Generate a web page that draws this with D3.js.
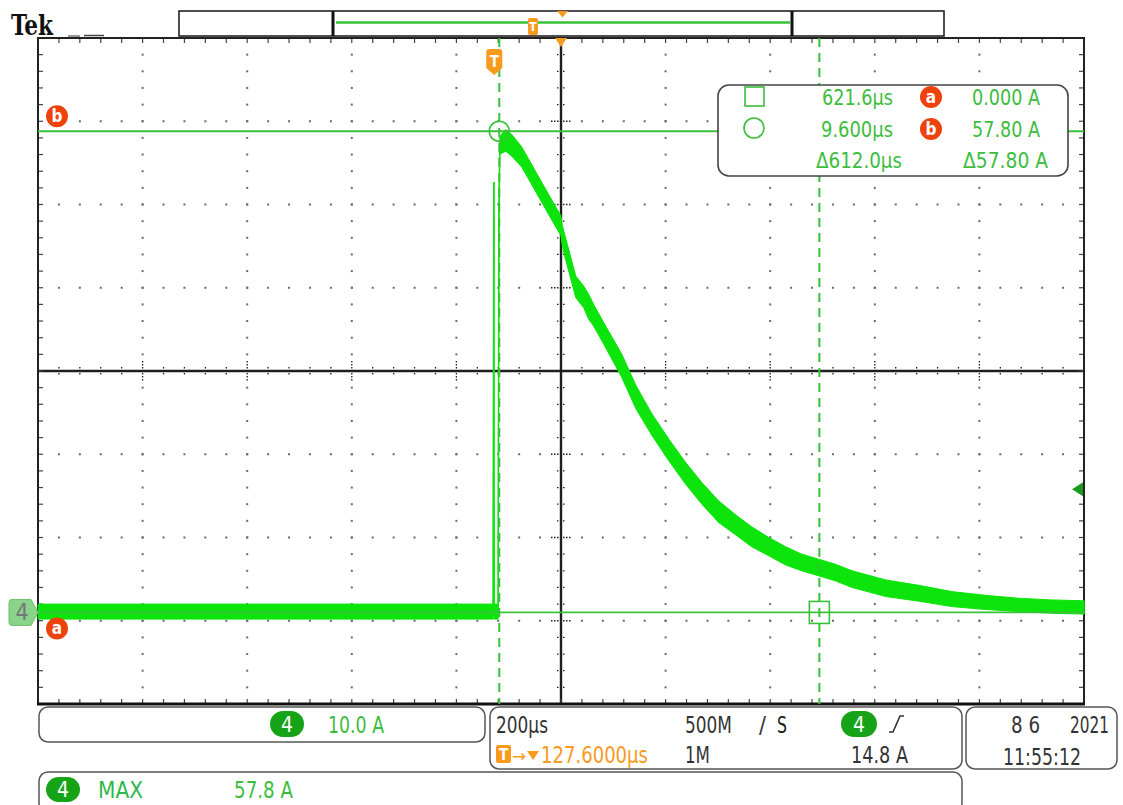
<!DOCTYPE html>
<html>
<head>
<meta charset="utf-8">
<script src="https://cdn.jsdelivr.net/npm/d3@7"></script>
<style>
body{margin:0;background:#fff;}
text{font-family:"DejaVu Sans Condensed","DejaVu Sans",sans-serif;font-stretch:condensed;}
</style>
</head>
<body>
<div id="viz-container"></div>
<script>
// channel 4 trace
// time after trigger (µs), current (A), half width of the noise band (A)
let timeUs   = [-872, -700, -500, -300, -100, -2, -1, -0.5, 0, 7.5,
                8.6, 10.6, 16, 22, 33.5, 52.6, 85, 117.6, 127.2, 130,
                133, 155.9, 171, 180.7, 190, 213, 244, 270.6, 301, 334,
                366, 397, 429, 462, 492, 525, 557, 588, 620, 652,
                684, 749, 812, 875, 940, 1003, 1066, 1128];
let currentA = [0.1, 0.1, 0.1, 0.1, 0.1, 0.1, 51.7, 0.1, 0.1, 0.1,
                45, 56.1, 56.4, 56.7, 56.1, 54.7, 51.1, 47.5, 46.5, 45.3,
                44.5, 39.1, 37.9, 36.7, 35.7, 33.1, 29.6, 25.9, 22.6, 19.5,
                16.7, 14.3, 12.1, 10.5, 9.1, 7.9, 6.8, 6.0, 5.4, 4.8,
                4.0, 2.9, 2.3, 1.6, 1.2, 0.9, 0.7, 0.6];
let bandA    = [0.9, 0.9, 0.9, 0.9, 0.9, 0.9, 0, 0.9, 0.9, 0.9,
                0.3, 1.0, 1.2, 1.3, 1.3, 1.2, 1.2, 1.2, 1.2, 1.2,
                1.3, 1.3, 1.3, 1.5, 1.3, 1.3, 1.4, 1.4, 1.3, 1.3,
                1.3, 1.3, 1.3, 1.2, 1.2, 1.1, 1.1, 1.0, 1.0, 1.0,
                1.0, 1.0, 0.95, 0.9, 0.85, 0.8, 0.8, 0.8];

// scope settings
let timePerDiv = 200;      // µs / div
let ampPerDiv = 10;        // A / div
let horizDelay = 127.6;    // µs at screen centre
let groundDiv = -2.9;      // ch4 ground, divs from centre
let cursorTimes = [621.6, 9.6];   // a = square, b = circle
let cursorAmps = [0.0, 57.8];     // a, b
let triggerLevel = 14.8;

// readout texts
let readoutTimes = ["621.6µs", "9.600µs", "Δ612.0µs"];
let readoutAmps = ["0.000 A", "57.80 A", "Δ57.80 A"];

let traceGreen = "#0ce40c";
let cursorGreen = "#38c238";
let textGreen = "#3dbd3d";
let pillGreen = "#17a317";
let orange = "#f79a1e";
let badgeRed = "#ee420c";

let viz = d3.select("#viz-container")
    .append("svg")
        .attr("width", 1123)
        .attr("height", 805)
        .style("background-color", "white");

let x = d3.scaleLinear()
    .domain([horizDelay - 5 * timePerDiv, horizDelay + 5 * timePerDiv])
    .range([38, 1084]);
let y = d3.scaleLinear()
    .domain([(-4 - groundDiv) * ampPerDiv, (4 - groundDiv) * ampPerDiv])
    .range([704, 38]);

let xMaj = d3.range(11).map(i => x.domain()[0] + i * timePerDiv);
let xMin = d3.range(51).map(i => x.domain()[0] + i * timePerDiv / 5);
let yMaj = d3.range(9).map(j => y.domain()[0] + j * ampPerDiv);
let yMin = d3.range(41).map(j => y.domain()[0] + j * ampPerDiv / 5);
let tMid = horizDelay;
let aMid = (y.domain()[0] + y.domain()[1]) / 2;

function label(g, px, py, str, size, color, w, anchor){
    let t = g.append("text")
        .attr("x", px).attr("y", py)
        .attr("font-size", size)
        .attr("fill", color)
        .text(str);
    if (w) t.attr("textLength", w).attr("lengthAdjust", "spacingAndGlyphs");
    if (anchor) t.attr("text-anchor", anchor);
    return t;
}

// ---- graticule dots
let dots = [];
xMaj.slice(1, -1).forEach((t, i) => {
    if (i === 4) return;
    yMin.slice(1, -1).forEach(a => dots.push([t, a]));
});
yMaj.slice(1, -1).forEach((a, j) => {
    if (j === 3) return;
    xMin.slice(1, -1).forEach(t => dots.push([t, a]));
});
viz.append("g").selectAll("rect").data(dots).enter().append("rect")
    .attr("x", d => x(d[0]) - 1)
    .attr("y", d => y(d[1]) - 1)
    .attr("width", 2)
    .attr("height", 2)
    .attr("fill", "#6a6a6a");

// ---- centre cross with ticks
let cross = viz.append("g").attr("stroke", "#1e1e1e");
cross.append("line").attr("x1", x(tMid)).attr("x2", x(tMid)).attr("y1", 38).attr("y2", 704).attr("stroke-width", 2.4);
cross.append("line").attr("x1", 38).attr("x2", 1084).attr("y1", y(aMid)).attr("y2", y(aMid)).attr("stroke-width", 2.4);
cross.selectAll(".vt").data(yMin).enter().append("line")
    .attr("x1", d => x(tMid) - (yMaj.includes(d) ? 10 : 4))
    .attr("x2", d => x(tMid) + (yMaj.includes(d) ? 10 : 4))
    .attr("y1", d => y(d)).attr("y2", d => y(d))
    .attr("stroke-width", 1.3)
    .attr("stroke-dasharray", "1.5,1.5");
cross.selectAll(".ht").data(xMin).enter().append("line")
    .attr("y1", d => y(aMid) - (xMaj.includes(d) ? 10 : 4))
    .attr("y2", d => y(aMid) + (xMaj.includes(d) ? 10 : 4))
    .attr("x1", d => x(d)).attr("x2", d => x(d))
    .attr("stroke-width", 1.3)
    .attr("stroke-dasharray", "1.5,1.5");

// ---- border ticks
let bt = viz.append("g").attr("stroke", "#444").attr("stroke-width", 1.2);
xMin.forEach(t => {
    bt.append("line").attr("x1", x(t)).attr("x2", x(t)).attr("y1", 38).attr("y2", 43);
    bt.append("line").attr("x1", x(t)).attr("x2", x(t)).attr("y1", 704).attr("y2", 699);
});
yMin.forEach(a => {
    bt.append("line").attr("y1", y(a)).attr("y2", y(a)).attr("x1", 38).attr("x2", 43);
    bt.append("line").attr("y1", y(a)).attr("y2", y(a)).attr("x1", 1084).attr("x2", 1079);
});
viz.append("rect").attr("x", 38).attr("y", 38).attr("width", 1046).attr("height", 666)
    .attr("fill", "none").attr("stroke", "#222").attr("stroke-width", 2);
viz.append("line").attr("x1", 37).attr("x2", 1085).attr("y1", 704).attr("y2", 704)
    .attr("stroke", "#111").attr("stroke-width", 3);

// ---- trace
let band = d3.area()
    .x((d, i) => x(timeUs[i]))
    .y0((d, i) => y(currentA[i] - bandA[i]))
    .y1((d, i) => y(currentA[i] + bandA[i]));
let mid = d3.line()
    .x((d, i) => x(timeUs[i]))
    .y((d, i) => y(currentA[i]));
viz.append("path").datum(timeUs).attr("d", band)
    .attr("fill", traceGreen).attr("stroke", traceGreen).attr("stroke-width", 1);
viz.append("path").datum(timeUs).attr("d", mid)
    .attr("fill", "none").attr("stroke", traceGreen).attr("stroke-width", 1.5);

// ---- cursors
let cur = viz.append("g").attr("stroke", cursorGreen).attr("fill", "none");
cursorAmps.forEach(a => {
    cur.append("line").attr("x1", 38).attr("x2", 1084).attr("y1", y(a)).attr("y2", y(a)).attr("stroke-width", 1.8);
});
cursorTimes.forEach(t => {
    cur.append("line").attr("x1", x(t)).attr("x2", x(t)).attr("y1", 38).attr("y2", 704)
        .attr("stroke-width", 2).attr("stroke-dasharray", "9,6");
});
cur.append("rect").attr("x", x(cursorTimes[0]) - 10).attr("y", y(cursorAmps[0]) - 11)
    .attr("width", 20).attr("height", 22).attr("stroke-width", 1.6);
cur.append("circle").attr("cx", x(cursorTimes[1])).attr("cy", y(cursorAmps[1])).attr("r", 10).attr("stroke-width", 1.6);

// cursor badges
function badge(cx, cy, ch){
    viz.append("circle").attr("cx", cx).attr("cy", cy).attr("r", 11).attr("fill", badgeRed);
    viz.append("text").attr("x", cx).attr("y", cy + 6).attr("text-anchor", "middle")
        .attr("font-size", 17).attr("font-weight", "bold").attr("fill", "white").text(ch);
}
badge(57, y(cursorAmps[1]) - 15, "b");
badge(57, y(cursorAmps[0]) + 16, "a");

// channel 4 ground tag
let gy = y(0);
viz.append("path")
    .attr("d", "M12," + (gy - 13) + " L31," + (gy - 13) + " L38," + gy + " L31," + (gy + 13) + " L12," + (gy + 13) + " Q9," + (gy + 13) + " 9," + (gy + 10) + " L9," + (gy - 10) + " Q9," + (gy - 13) + " 12," + (gy - 13) + " Z")
    .attr("fill", "#8ad48a").attr("stroke", "#6cbf6c");
label(viz, 22, gy + 8, "4", 23, "#777", null, "middle");

// trigger level arrow on the right
let ty = y(triggerLevel);
viz.append("path").attr("d", "M1072," + ty + " L1083," + (ty - 7) + " L1083," + (ty + 7) + " Z").attr("fill", "#1c9a1c");

// trigger position tag
let tx = x(0);
viz.append("path")
    .attr("d", "M" + (tx - 8) + ",52 Q" + (tx - 8) + ",49 " + (tx - 5) + ",49 L" + (tx + 5) + ",49 Q" + (tx + 8) + ",49 " + (tx + 8) + ",52 L" + (tx + 8) + ",68 L" + tx + ",75 L" + (tx - 8) + ",68 Z")
    .attr("fill", orange);
label(viz, tx, 67, "T", 15, "white", null, "middle").attr("font-weight", "bold");
// delay marker
viz.append("path").attr("d", "M" + (x(tMid) - 6) + ",38 L" + (x(tMid) + 6) + ",38 L" + x(tMid) + ",47 Z").attr("fill", orange);

// ---- top bar
label(viz, 11, 35, "Tek", 28, "#111", 42).style("font-family", "'DejaVu Serif',serif").attr("font-weight", "bold");
viz.append("line").attr("x1", 68).attr("x2", 80).attr("y1", 36).attr("y2", 36).attr("stroke", "#555").attr("stroke-width", 1.2);
viz.append("line").attr("x1", 84).attr("x2", 104).attr("y1", 35.5).attr("y2", 35.5).attr("stroke", "#444").attr("stroke-width", 1.5);
viz.append("rect").attr("x", 179).attr("y", 11).attr("width", 765).attr("height", 25)
    .attr("fill", "white").attr("stroke", "#222").attr("stroke-width", 1.6);
viz.append("line").attr("x1", 333).attr("x2", 333).attr("y1", 11).attr("y2", 36).attr("stroke", "#111").attr("stroke-width", 3);
viz.append("line").attr("x1", 792).attr("x2", 792).attr("y1", 11).attr("y2", 36).attr("stroke", "#111").attr("stroke-width", 3);
viz.append("line").attr("x1", 336).attr("x2", 790).attr("y1", 22.5).attr("y2", 22.5).attr("stroke", cursorGreen).attr("stroke-width", 2.5);
viz.append("rect").attr("x", 528).attr("y", 18).attr("width", 10).attr("height", 17).attr("rx", 2).attr("fill", orange);
label(viz, 533, 31, "T", 12, "white", null, "middle").attr("font-weight", "bold");
viz.append("path").attr("d", "M557,11 L568,11 L562.5,17.5 Z").attr("fill", orange);

// ---- cursor readout
let ro = viz.append("g");
ro.append("rect").attr("x", 718).attr("y", 85).attr("width", 350).attr("height", 91).attr("rx", 11)
    .attr("fill", "white").attr("stroke", "#444").attr("stroke-width", 1.6);
ro.append("rect").attr("x", 745).attr("y", 87).attr("width", 19).attr("height", 19)
    .attr("fill", "none").attr("stroke", textGreen).attr("stroke-width", 1.6);
ro.append("circle").attr("cx", 754).attr("cy", 128).attr("r", 10)
    .attr("fill", "none").attr("stroke", textGreen).attr("stroke-width", 1.6);
label(ro, 822, 105, readoutTimes[0], 21, textGreen, 71);
label(ro, 821, 137, readoutTimes[1], 21, textGreen, 72);
label(ro, 816, 168, readoutTimes[2], 21, textGreen, 86);
label(ro, 972, 105, readoutAmps[0], 21, textGreen, 68);
label(ro, 972, 137, readoutAmps[1], 21, textGreen, 68);
label(ro, 963, 168, readoutAmps[2], 21, textGreen, 85);
badge(931, 97, "a");
badge(931, 129, "b");

// ---- bottom panels
let bp = viz.append("g");
function panel(px, py, w, h){
    bp.append("rect").attr("x", px).attr("y", py).attr("width", w).attr("height", h).attr("rx", 9)
        .attr("fill", "white").attr("stroke", "#555").attr("stroke-width", 1.5);
}
function pill(px, py, w, h){
    bp.append("rect").attr("x", px).attr("y", py).attr("width", w).attr("height", h).attr("rx", h / 2).attr("fill", pillGreen);
    label(bp, px + w / 2, py + h / 2 + 7.5, "4", 21, "white", null, "middle");
}
panel(39, 707, 446, 35);
panel(490, 707, 472, 62);
panel(966, 707, 151, 62);
panel(39, 772, 923, 40);

pill(270, 711, 34, 26);
label(bp, 328, 733, "10.0 A", 23, textGreen, 56);

label(bp, 496, 733, "200µs", 23, "#333", 52);
label(bp, 685, 733, "500M", 23, "#333", 47);
label(bp, 759, 733, "/", 23, "#333", 7);
label(bp, 777, 733, "S", 23, "#222", 10);
pill(841, 711, 36, 26);
bp.append("path").attr("d", "M889,732 L893,732 L900,716 L904,716")
    .attr("fill", "none").attr("stroke", "#333").attr("stroke-width", 1.6);

bp.append("rect").attr("x", 496).attr("y", 745).attr("width", 15).attr("height", 18).attr("rx", 2).attr("fill", orange);
label(bp, 503.5, 760, "T", 15, "white", null, "middle").attr("font-weight", "bold");
label(bp, 512, 762, "→", 17, orange, 14);
bp.append("path").attr("d", "M527,751 L539,751 L533,760 Z").attr("fill", orange);
label(bp, 541, 763, horizDelay.toFixed(4) + "µs", 23, orange, 107);
label(bp, 685, 763, "1M", 23, "#333", 25);
label(bp, 851, 763, triggerLevel.toFixed(1) + " A", 23, "#333", 57);

label(bp, 1011, 733, "8 6", 23, "#333", 29);
label(bp, 1070, 733, "2021", 23, "#333", 39);
label(bp, 1003, 765, "11:55:12", 23, "#333", 78);

pill(46, 777, 34, 25);
label(bp, 98, 798, "MAX", 23, "#2cb84c", 45);
label(bp, 234, 798, cursorAmps[1].toFixed(1) + " A", 23, textGreen, 59);
</script>
</body>
</html>
